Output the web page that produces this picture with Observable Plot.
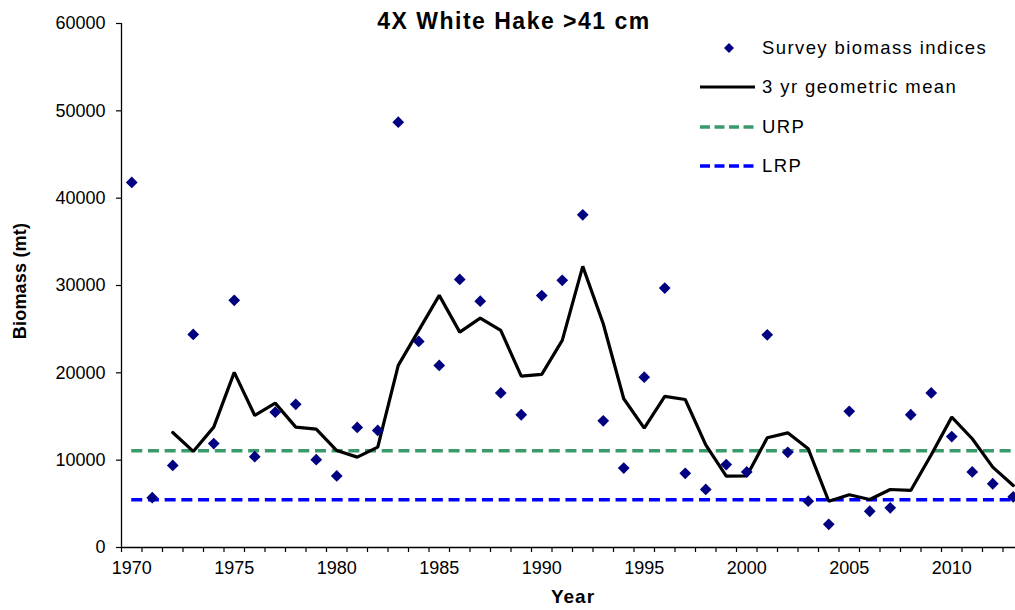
<!DOCTYPE html>
<html>
<head>
<meta charset="utf-8">
<script src="https://cdn.jsdelivr.net/npm/d3@7"></script>
<script src="https://cdn.jsdelivr.net/npm/@observablehq/plot@0.6"></script>
<style>
  html, body { margin: 0; padding: 0; background: #fff; overflow: hidden; }
  #wrap { position: relative; width: 1015px; height: 610px; overflow: hidden; font-family: "Liberation Sans", Arial, sans-serif; color: #000; }
  #wrap > svg { position: absolute; left: 0; top: 0; }
  .ov { position: absolute; white-space: nowrap; }
  #title { left: 264px; width: 500px; top: 8px; text-align: center; font-weight: bold; font-size: 23px; letter-spacing: 1.5px; line-height: 26px; }
  #ylab { left: 19.5px; top: 281px; transform: translate(-50%, -50%) rotate(-90deg); font-weight: bold; font-size: 18px; letter-spacing: 0.2px; line-height: 22px; }
  #xlab { left: 573px; top: 586px; transform: translateX(-50%); font-weight: bold; font-size: 19px; letter-spacing: 1px; line-height: 22px; }
  #legend { left: 698px; top: 28px; }
  .row { position: relative; height: 39.4px; width: 320px; }
  .row svg { position: absolute; left: 0; top: 10px; }
  .row span { position: absolute; left: 64px; top: 9px; font-size: 18.5px; letter-spacing: 1.4px; line-height: 22px; }
</style>
</head>
<body>
<div id="wrap"></div>
<script>
// ---- data ----
const years = d3.range(1970, 2014);
const surveyBiomass = [
  41800, 5700, 9400, 24400, 11900, 28300, 10400, 15500, 16400, 10050,
  8200, 13750, 13400, 48700, 23600, 20850, 30700, 28200, 17700, 15200,
  28850, 30600, 38100, 14500, 9100, 19500, 29700, 8500, 6650, 9500,
  8650, 24350, 10900, 5300, 2650, 15600, 4150, 4550, 15200, 17700,
  12700, 8650, 7300, 5800
];
const meanYears = d3.range(1972, 2014);
const geoMean3yr = [
  13170, 11000, 13780, 20050, 15120, 16530, 13780, 13550, 11100, 10350,
  11490, 20850, 24860, 28870, 24660, 26270, 24860, 19620, 19820, 23710,
  32190, 25620, 17030, 13670, 17300, 16950, 11760, 8170, 8200, 12570,
  13130, 11300, 5300, 6040, 5500, 6640, 6530, 10620, 14930, 12450,
  9200, 7100
];
const URP = 11080;
const LRP = 5460;
const yTicks = [0, 10000, 20000, 30000, 40000, 50000, 60000];
const xLabelYears = [1970, 1975, 1980, 1985, 1990, 1995, 2000, 2005, 2010];
const xTickBounds = d3.range(1969.5, 2014, 1);

const survey = years.map((y, i) => ({year: y, value: surveyBiomass[i]}));
const means = meanYears.map((y, i) => ({year: y, value: geoMean3yr[i]}));

const GREEN = "#3a9a6b";
const BLUE = "#0000ff";
const NAVY = "#000080";

const chart = Plot.plot({
  width: 1015,
  height: 610,
  marginLeft: 121,
  marginRight: 0,
  marginTop: 23,
  marginBottom: 63,
  x: {domain: [1969.5, 2013.5], range: [121, 1023]},
  y: {domain: [0, 60000], range: [547, 23]},
  style: {fontFamily: "'Liberation Sans', Arial, sans-serif", fontSize: "18px", color: "#000", background: "transparent", overflow: "visible"},
  marks: [
    Plot.ruleY([LRP], {x1: 1970, x2: 2013.5, stroke: BLUE, strokeWidth: 3.5, strokeDasharray: "11,5.7"}),
    Plot.ruleY([URP], {x1: 1970, x2: 2013.5, stroke: GREEN, strokeWidth: 3.5, strokeDasharray: "11,5.7"}),
    Plot.line(means, {x: "year", y: "value", stroke: "#000", strokeWidth: 3.2, strokeLinejoin: "miter"}),
    Plot.dot(survey, {x: "year", y: "value", symbol: "diamond2", r: 5.3, fill: NAVY, stroke: "none"}),
    Plot.axisY({ticks: yTicks, tickSize: 5, tickPadding: 11, tickFormat: d => String(d), label: null, strokeWidth: 1.2, style: {letterSpacing: "0.5px"}}),
    Plot.axisX({ticks: xTickBounds, tickSize: 5, tickFormat: () => "", label: null, strokeWidth: 1.2}),
    Plot.axisX({ticks: xLabelYears, tickSize: 0, tickPadding: 14, tickFormat: d => String(d), label: null, style: {letterSpacing: "0.7px"}}),
    Plot.ruleX([1969.5], {y1: 0, y2: 60000, stroke: "#000", strokeWidth: 1.3}),
    Plot.ruleY([0], {x1: 1969.5, x2: 2013.5, stroke: "#000", strokeWidth: 1.3})
  ]
});

const wrap = document.getElementById("wrap");
wrap.appendChild(chart);

function addDiv(id, text) {
  const d = document.createElement("div");
  d.className = "ov";
  d.id = id;
  d.textContent = text;
  wrap.appendChild(d);
  return d;
}
addDiv("title", "4X White Hake >41 cm");
addDiv("ylab", "Biomass (mt)");
addDiv("xlab", "Year");

const legendItems = [
  {label: "Survey biomass indices", kind: "dot", color: NAVY},
  {label: "3 yr geometric mean", kind: "line", color: "#000"},
  {label: "URP", kind: "dash", color: GREEN},
  {label: "LRP", kind: "dash", color: BLUE}
];
const legend = document.createElement("div");
legend.className = "ov";
legend.id = "legend";
wrap.appendChild(legend);
legendItems.forEach(it => {
  const row = document.createElement("div");
  row.className = "row";
  let sample;
  if (it.kind === "dot") {
    sample = `<svg width="60" height="20"><path d="M31,5 L36,10 L31,15 L26,10 Z" fill="${it.color}"/></svg>`;
  } else if (it.kind === "line") {
    sample = `<svg width="60" height="20"><line x1="2" x2="57" y1="10" y2="10" stroke="${it.color}" stroke-width="3.2"/></svg>`;
  } else {
    sample = `<svg width="60" height="20"><line x1="2" x2="57" y1="10" y2="10" stroke="${it.color}" stroke-width="3.5" stroke-dasharray="10,4.5"/></svg>`;
  }
  row.innerHTML = sample + `<span>${it.label}</span>`;
  legend.appendChild(row);
});
</script>
</body>
</html>
